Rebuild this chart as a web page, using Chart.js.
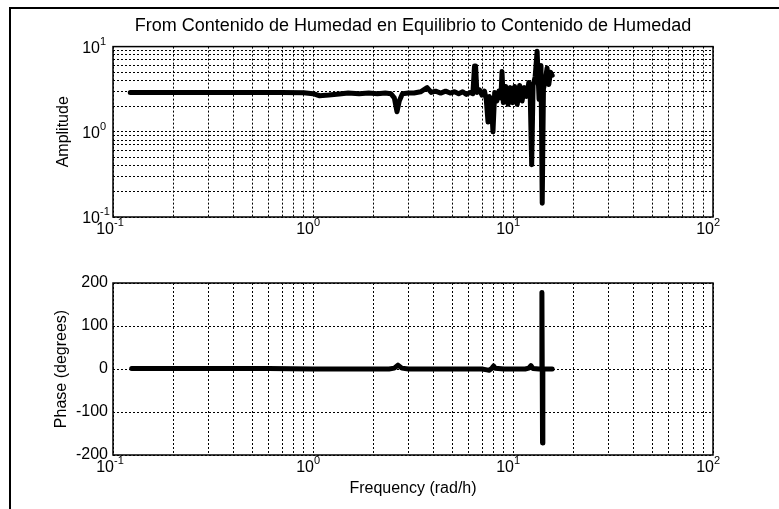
<!DOCTYPE html>
<html>
<head>
<meta charset="utf-8">
<script src="https://cdn.jsdelivr.net/npm/chart.js@4.4.1/dist/chart.umd.min.js"></script>
<style>
  body { margin: 0; background: #fff; }
  #wrap { position: relative; width: 779px; height: 509px; overflow: hidden; background: #fff; }
  #frame { position: absolute; left: 9px; top: 7px; width: 800px; height: 600px;
           border-top: 2px solid #000; border-left: 2px solid #000; }
  canvas { position: absolute; left: 0; }
</style>
</head>
<body>
<div id="wrap">
  <div id="frame"></div>
  <canvas id="amp" width="779" height="250" style="top:0"></canvas>
  <canvas id="phase" width="779" height="259" style="top:250px"></canvas>
</div>
<script>
// amplitude curve
const ampFreq = [0.122, 0.2, 0.3, 0.5, 0.7, 0.9, 1.0, 1.08, 1.2, 1.35, 1.5, 1.7, 1.9, 2.1, 2.3, 2.45,
  2.55, 2.63, 2.7, 2.8, 3.0, 3.2, 3.45, 3.72, 3.9, 4.1, 4.35, 4.6, 4.85, 5.1, 5.35, 5.6, 5.85, 6.1,
  6.3, 6.42, 6.5, 6.6, 6.8, 7.0, 7.2, 7.35, 7.5, 7.62, 7.8, 7.94, 8.1, 8.3, 8.5, 8.7, 8.81, 8.95,
  9.2, 9.45, 9.7, 9.95, 10.2, 10.5, 10.8, 11.1, 11.4, 11.7, 12.0, 12.2, 12.4, 12.6, 12.9, 13.2,
  13.5, 13.8, 14.0, 14.2, 14.5, 14.8, 15.1, 15.4, 15.7];
const amplitude = [2.9, 2.9, 2.9, 2.9, 2.9, 2.88, 2.8, 2.65, 2.7, 2.78, 2.85, 2.8, 2.85, 2.8, 2.85, 2.8,
  2.5, 1.72, 2.3, 2.8, 2.85, 2.85, 2.95, 3.3, 2.9, 3.0, 2.85, 3.0, 2.85, 2.95, 2.8, 2.95, 2.75, 2.9,
  2.8, 5.9, 5.9, 2.9, 3.1, 2.7, 3.0, 2.4, 1.3, 2.6, 2.2, 1.0, 2.9, 2.3, 3.0, 2.5, 5.1, 2.2,
  3.4, 2.1, 3.3, 2.2, 3.4, 2.1, 3.5, 2.3, 3.3, 2.6, 3.8, 2.5, 0.41, 3.5, 4.4, 8.8,
  2.4, 6.0, 0.145, 3.2, 4.0, 5.6, 3.6, 5.0, 4.6];

// phase curve
const phaseFreq = [0.124, 0.3, 0.6, 1.0, 1.5, 2.0, 2.4, 2.55, 2.66, 2.78, 3.0, 4.0, 5.0, 6.0, 7.0,
  7.4, 7.6, 7.85, 8.0, 8.15, 9.0, 10.0, 11.5, 12.0, 12.3, 12.6, 13.5, 13.9, 13.95, 14.05, 14.1, 14.5, 15.7];
const phase = [1, 1, 1, 0, 0, 0, 0, 2, 9, 2, 0, 0, 0, 0, 0,
  -2, -3, 2, 7, 2, 0, 0, 0, 2, 8, 1, 0, 0, 178, -172, 0, 0, 0];

// grid / tick values
const xGrid = [0.1, 0.2, 0.3, 0.4, 0.5, 0.6, 0.7, 0.8, 0.9, 1, 2, 3, 4, 5, 6, 7, 8, 9,
  10, 20, 30, 40, 50, 60, 70, 80, 90, 100];
const xDecades = [0.1, 1, 10, 100];
const xExponents = ['-1', '0', '1', '2'];
const ampGrid = [0.1, 0.2, 0.3, 0.4, 0.5, 0.6, 0.7, 0.8, 0.9, 1, 2, 3, 4, 5, 6, 7, 8, 9, 10];
const ampDecades = [0.1, 1, 10];
const ampExponents = ['-1', '0', '1'];
const phaseTicks = [-200, -100, 0, 100, 200];

const FONT = '"Liberation Sans", Arial, sans-serif';
Chart.defaults.font.family = FONT;
Chart.defaults.color = '#000';

const frame = {
  id: 'frame',
  afterDraw(chart) {
    const { ctx, chartArea: a } = chart;
    ctx.save();
    ctx.strokeStyle = '#000';
    ctx.lineWidth = 1.5;
    ctx.strokeRect(a.left, a.top, a.right - a.left, a.bottom - a.top);
    ctx.restore();
  }
};

// "10" with a raised exponent, placed through the scales
const decadeLabels = (yVals, yExps) => ({
  id: 'decadeLabels',
  afterDraw(chart) {
    const { ctx, chartArea: a } = chart;
    const xs = chart.scales.x;
    ctx.save();
    ctx.fillStyle = '#000';
    ctx.textBaseline = 'alphabetic';
    xDecades.forEach((v, i) => {
      const px = xs.getPixelForValue(v);
      const by = a.bottom + 17;
      ctx.font = '16px ' + FONT;
      ctx.textAlign = 'right';
      ctx.fillText('10', px + 1, by);
      ctx.font = '11px ' + FONT;
      ctx.textAlign = 'left';
      ctx.fillText(xExponents[i], px + 1, by - 8);
    });
    if (yVals) {
      const ys = chart.scales.y;
      yVals.forEach((v, i) => {
        const py = ys.getPixelForValue(v);
        ctx.font = '16px ' + FONT;
        ctx.textAlign = 'right';
        ctx.fillText('10', a.left - 13, py + 6);
        ctx.font = '11px ' + FONT;
        ctx.textAlign = 'left';
        ctx.fillText(yExps[i], a.left - 13, py - 2);
      });
    }
    ctx.restore();
  }
});

const gridOpts = { color: '#000', lineWidth: 1, drawTicks: false };
const borderOpts = { display: false, dash: [2, 2] };

const xScale = (height, title) => ({
  type: 'logarithmic',
  min: 0.1,
  max: 100,
  grid: gridOpts,
  border: borderOpts,
  ticks: { display: false },
  afterBuildTicks: (s) => { s.ticks = xGrid.map(v => ({ value: v })); },
  afterFit: (s) => { s.height = height; },
  title: title
});

new Chart(document.getElementById('amp'), {
  type: 'line',
  data: {
    datasets: [{
      data: ampFreq.map((f, i) => ({ x: f, y: amplitude[i] })),
      borderColor: '#000',
      borderWidth: 5,
      pointRadius: 0,
      tension: 0,
      borderJoinStyle: 'round',
      borderCapStyle: 'round'
    }]
  },
  options: {
    responsive: false,
    animation: false,
    events: [],
    layout: { padding: { top: 0, right: 66, left: 0, bottom: 0 } },
    plugins: {
      legend: { display: false },
      tooltip: { enabled: false },
      title: {
        display: true,
        fullSize: false,
        text: 'From Contenido de Humedad en Equilibrio to Contenido de Humedad',
        font: { size: 18, weight: 'normal' },
        color: '#000',
        padding: { top: 15, bottom: 10 }
      }
    },
    scales: {
      x: xScale(33, { display: false }),
      y: {
        type: 'logarithmic',
        min: 0.1,
        max: 10,
        grid: gridOpts,
        border: borderOpts,
        ticks: { display: false },
        afterBuildTicks: (s) => { s.ticks = ampGrid.map(v => ({ value: v })); },
        afterFit: (s) => { s.width = 113; },
        title: { display: true, text: 'Amplitude', font: { size: 16 }, padding: { top: 54, bottom: 0 } }
      }
    }
  },
  plugins: [frame, decadeLabels(ampDecades, ampExponents)]
});

new Chart(document.getElementById('phase'), {
  type: 'line',
  data: {
    datasets: [{
      data: phaseFreq.map((f, i) => ({ x: f, y: phase[i] })),
      borderColor: '#000',
      borderWidth: 5,
      pointRadius: 0,
      tension: 0,
      borderJoinStyle: 'round',
      borderCapStyle: 'round'
    }]
  },
  options: {
    responsive: false,
    animation: false,
    events: [],
    layout: { padding: { top: 33, right: 66, left: 0, bottom: 0 } },
    plugins: { legend: { display: false }, tooltip: { enabled: false } },
    scales: {
      x: xScale(54, { display: true, text: 'Frequency (rad/h)', font: { size: 16 }, padding: { top: 0, bottom: 11 } }),
      y: {
        type: 'linear',
        min: -200,
        max: 200,
        grid: gridOpts,
        border: borderOpts,
        ticks: { font: { size: 16 }, padding: 5 },
        afterBuildTicks: (s) => { s.ticks = phaseTicks.map(v => ({ value: v })); },
        afterFit: (s) => { s.width = 113; },
        title: { display: true, text: 'Phase (degrees)', font: { size: 16 }, padding: { top: 52, bottom: 0 } }
      }
    }
  },
  plugins: [frame, decadeLabels(null, null)]
});
</script>
</body>
</html>
